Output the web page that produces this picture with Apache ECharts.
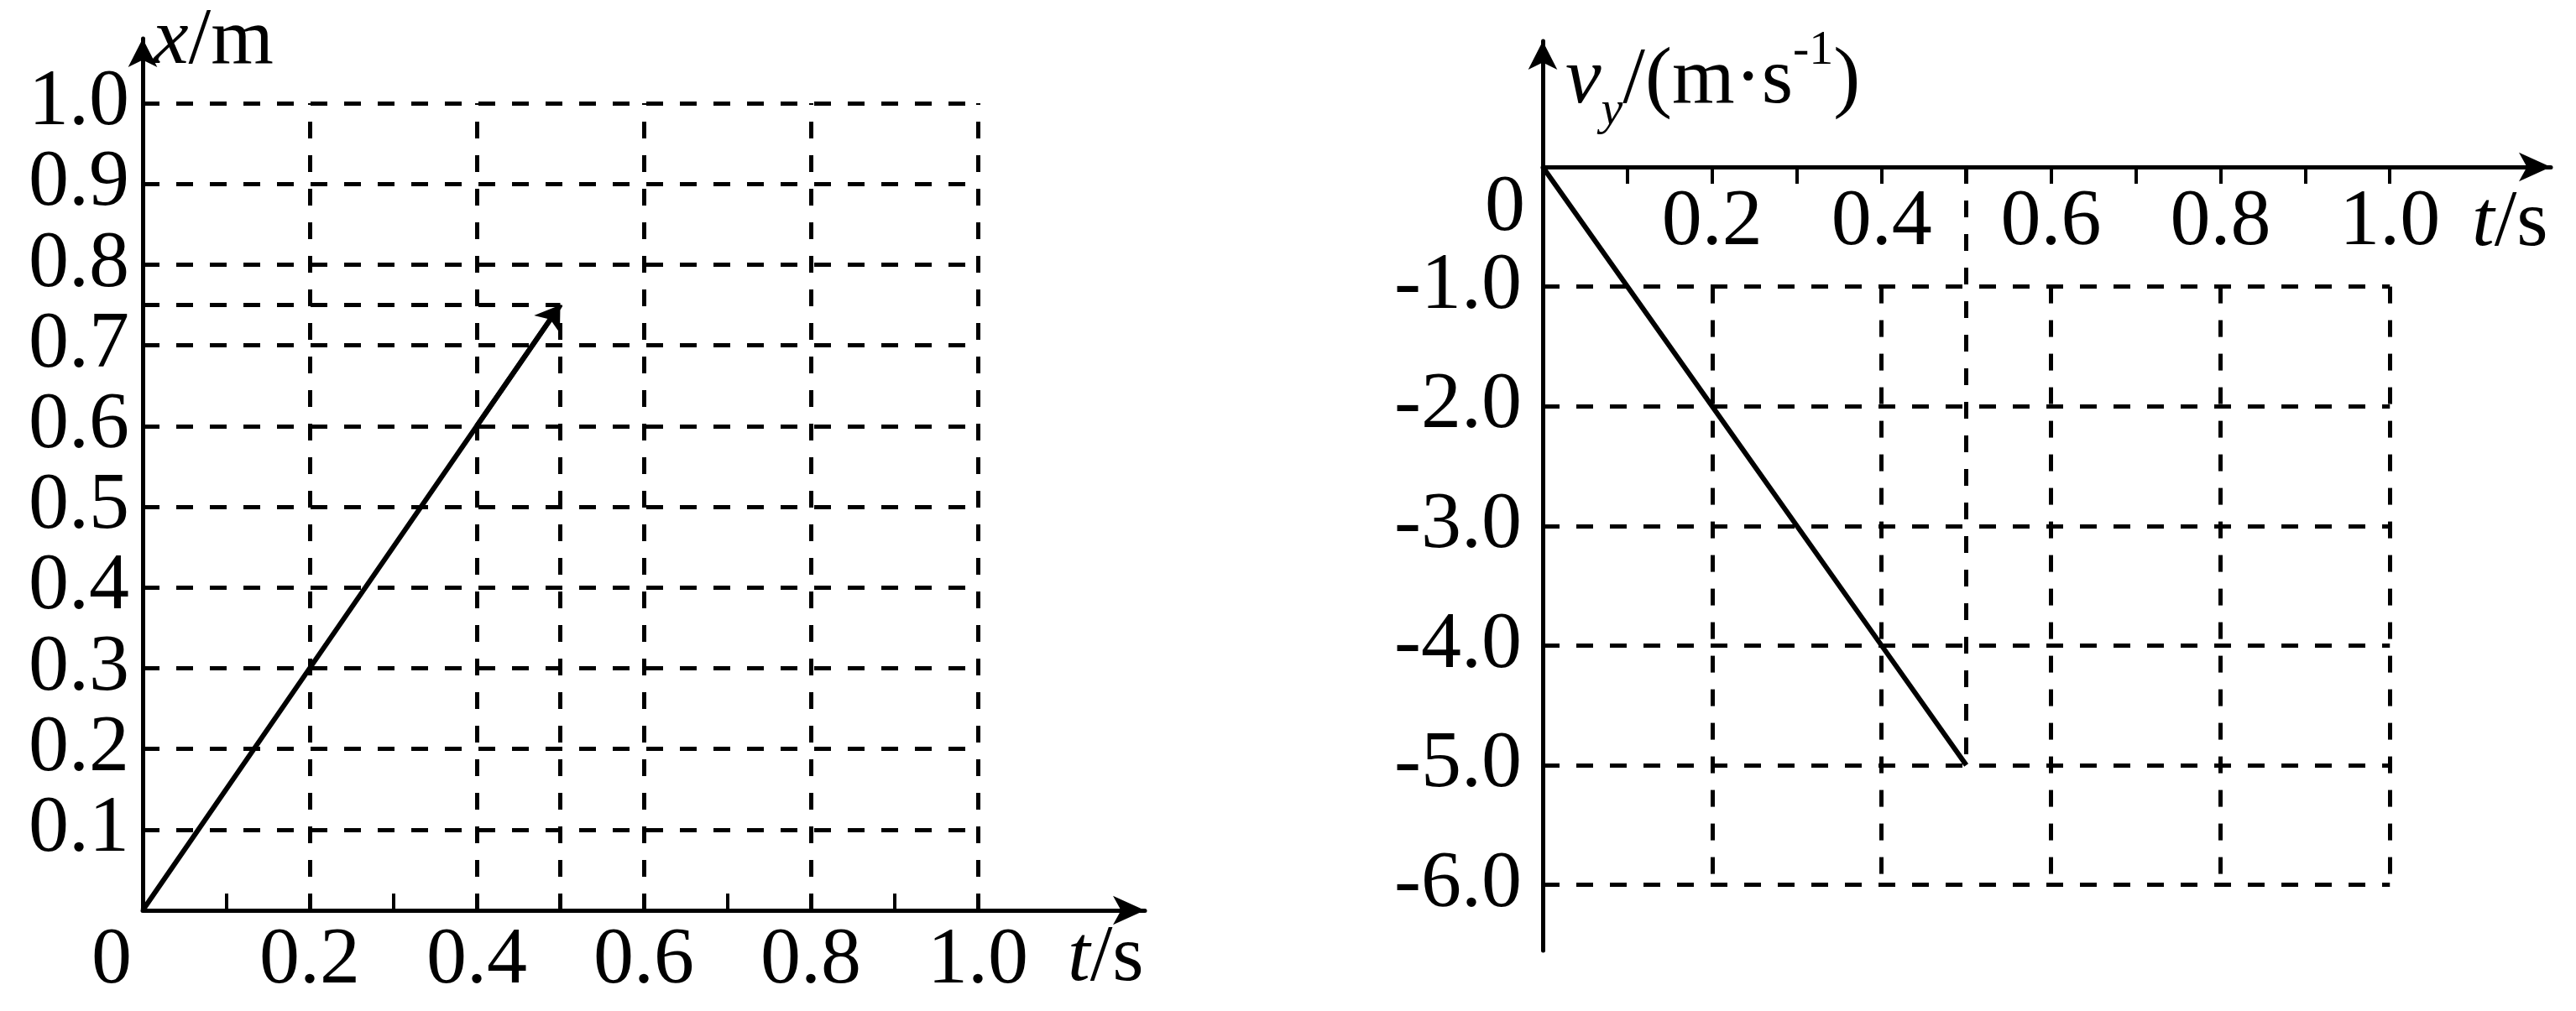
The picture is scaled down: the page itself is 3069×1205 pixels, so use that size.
<!DOCTYPE html>
<html>
<head>
<meta charset="utf-8">
<script src="https://cdn.jsdelivr.net/npm/echarts@6/dist/echarts.min.js"></script>
<style>
  html, body { margin: 0; padding: 0; background: #fff; }
  #c { width: 3069px; height: 1205px; }
</style>
</head>
<body>
<div id="c"></div>
<script>
// x–t graph (left) and vy–t graph (right) of a projectile

// tick values
const tMinorTicks  = [0, 0.1, 0.2, 0.3, 0.4, 0.5, 0.6, 0.7, 0.8, 0.9, 1.0];
const tTickLabels  = [0, 0.2, 0.4, 0.6, 0.8, 1.0];
const xTickLabels  = [0.1, 0.2, 0.3, 0.4, 0.5, 0.6, 0.7, 0.8, 0.9, 1.0];
const vyTickLabels = [-1, -2, -3, -4, -5, -6];

// dashed grid positions
const tGrid  = [0.2, 0.4, 0.6, 0.8, 1.0];
const xGrid  = [0.1, 0.2, 0.3, 0.4, 0.5, 0.6, 0.7, 0.8, 0.9, 1.0];
const vyGrid = [-1, -2, -3, -4, -5, -6];

// plotted values
const tSamples = [0, 0.2, 0.4, 0.5];
const xValues  = [0, 0.3, 0.6, 0.75];
const vyValues = [0, -2, -4, -5];

const FONT = '"Liberation Serif", "Times New Roman", serif';
const INK = '#000';
const FS = 96;

const n = tSamples.length;
const tEnd = tGrid[tGrid.length - 1];
const xTop = xGrid[xGrid.length - 1];
const vyTop = vyGrid[0];
const vyBottom = vyGrid[vyGrid.length - 1];
const tLast = tSamples[n - 1];
const xLast = xValues[n - 1];
const vyLast = vyValues[n - 1];

// grid segments for the x–t graph
const leftGridSegs = []
  .concat(xGrid.map(v => ({ coords: [[0, v], [tEnd, v]] })))
  .concat(tGrid.map(t => ({ coords: [[t, 0], [t, xTop]] })))
  .concat([
    { coords: [[0, xLast], [tLast, xLast]] },
    { coords: [[tLast, 0], [tLast, xLast]] }
  ]);

// grid segments for the vy–t graph
const rightGridSegs = []
  .concat(vyGrid.map(v => ({ coords: [[0, v], [tEnd, v]] })))
  .concat(tGrid.map(t => ({ coords: [[t, vyTop], [t, vyBottom]] })))
  .concat([{ coords: [[tLast, 0], [tLast, vyLast]] }]);

const dash = { color: INK, width: 5, type: [20, 20], opacity: 1 };
const labelBase = { color: INK, fontFamily: FONT, fontSize: FS };
const italic = Object.assign({}, labelBase, { fontStyle: 'italic' });

function axisLine(symbols, size) {
  return {
    show: true,
    onZero: false,
    symbol: symbols,
    symbolSize: size,
    lineStyle: { color: INK, width: 5 }
  };
}

const chart = echarts.init(document.getElementById('c'), null, { renderer: 'canvas' });

chart.setOption({
  backgroundColor: '#fff',
  animation: false,
  grid: [
    // x–t plot area
    { left: 170, top: 46, width: 1194, height: 1039 },
    // vy–t plot area below the t axis
    { left: 1838, top: 199, width: 1201, height: 934 },
    // strip above the t axis carrying the arrow of the vy axis
    { left: 1838, top: 49, width: 1201, height: 150 }
  ],
  xAxis: [
    {
      gridIndex: 0, type: 'value', min: 0, max: 1.2, position: 'bottom',
      axisLine: axisLine(['none', 'arrow'], [26, 38]),
      axisTick: { show: true, inside: true, length: 20, customValues: tMinorTicks,
                  lineStyle: { color: INK, width: 4 } },
      axisLabel: Object.assign({}, labelBase, {
        customValues: tTickLabels, margin: 13,
        formatter: v => v === 0 ? '{o|0}' : v.toFixed(1),
        rich: { o: Object.assign({}, labelBase, { padding: [0, 74, 0, 0] }) }
      }),
      splitLine: { show: false },
      name: '{i|t}/s', nameLocation: 'end', nameGap: -92,
      nameTextStyle: Object.assign({}, labelBase, {
        padding: [116, 0, 0, 0], rich: { i: italic }
      })
    },
    {
      gridIndex: 1, type: 'value', min: 0, max: 1.19, position: 'top',
      axisLine: axisLine(['none', 'arrow'], [26, 38]),
      axisTick: { show: true, inside: true, length: 20, customValues: tMinorTicks,
                  lineStyle: { color: INK, width: 4 } },
      axisLabel: Object.assign({}, labelBase, {
        inside: true, customValues: tTickLabels, margin: 19,
        formatter: v => v === 0 ? '{o|0}' : v.toFixed(1),
        rich: { o: Object.assign({}, labelBase, { lineHeight: 62, padding: [0, 90, 0, 0] }) }
      }),
      splitLine: { show: false },
      name: '{i|t}/s', nameLocation: 'end', nameGap: -94,
      nameTextStyle: Object.assign({}, labelBase, {
        padding: [136, 0, 0, 0], rich: { i: italic }
      })
    },
    {
      gridIndex: 2, type: 'value', min: 0, max: 1.19, show: false
    }
  ],
  yAxis: [
    {
      gridIndex: 0, type: 'value', min: 0, max: 1.08,
      axisLine: axisLine(['none', 'arrow'], [26, 34]),
      axisTick: { show: false },
      axisLabel: Object.assign({}, labelBase, {
        customValues: xTickLabels, margin: 16, padding: [24, 0, 0, 0],
        formatter: v => v.toFixed(1)
      }),
      splitLine: { show: false },
      name: '{i|x}/m', nameLocation: 'end', nameGap: -4,
      nameTextStyle: Object.assign({}, labelBase, {
        align: 'left', verticalAlign: 'middle', padding: [0, 0, 0, 12],
        rich: { i: italic }
      })
    },
    {
      gridIndex: 1, type: 'value', min: -6.55, max: 0,
      axisLine: axisLine(['none', 'none'], [1, 1]),
      axisTick: { show: false },
      axisLabel: Object.assign({}, labelBase, {
        customValues: vyTickLabels, margin: 25,
        formatter: v => v.toFixed(1)
      }),
      splitLine: { show: false }
    },
    {
      gridIndex: 2, type: 'value', min: 0, max: 1.05,
      axisLine: axisLine(['none', 'arrow'], [26, 34]),
      axisTick: { show: false },
      axisLabel: { show: false },
      splitLine: { show: false },
      name: '{i|v}{sub|y}{n|/(m·s}{sup|-1}{n|)}', nameLocation: 'end', nameGap: -48,
      nameTextStyle: Object.assign({}, labelBase, {
        align: 'left', verticalAlign: 'middle', padding: [0, 0, 0, 27],
        rich: {
          i:   Object.assign({}, italic, { lineHeight: 130, verticalAlign: 'middle' }),
          n:   Object.assign({}, labelBase, { lineHeight: 130, verticalAlign: 'middle' }),
          sub: Object.assign({}, italic, { fontSize: 58, lineHeight: 58, verticalAlign: 'bottom' }),
          sup: Object.assign({}, labelBase, { fontSize: 58, lineHeight: 90, verticalAlign: 'top' })
        }
      })
    }
  ],
  series: [
    {
      type: 'lines', coordinateSystem: 'cartesian2d', xAxisIndex: 0, yAxisIndex: 0,
      silent: true, symbol: 'none', lineStyle: dash, data: leftGridSegs, z: 1
    },
    {
      type: 'lines', coordinateSystem: 'cartesian2d', xAxisIndex: 1, yAxisIndex: 1,
      silent: true, symbol: 'none', lineStyle: dash, data: rightGridSegs, z: 1
    },
    {
      // x–t line
      type: 'line', xAxisIndex: 0, yAxisIndex: 0, silent: true,
      symbol: 'none', lineStyle: { color: INK, width: 6 },
      data: tSamples.map((t, i) => [t, xValues[i]]),
      z: 3
    },
    {
      // arrowhead on the last x–t segment
      type: 'lines', coordinateSystem: 'cartesian2d', xAxisIndex: 0, yAxisIndex: 0,
      silent: true, symbol: ['none', 'arrow'], symbolSize: 28,
      lineStyle: { color: INK, width: 6, opacity: 1 },
      data: [{ coords: [[tSamples[n - 2], xValues[n - 2]], [tLast, xLast]] }],
      z: 3
    },
    {
      // vy–t line
      type: 'line', xAxisIndex: 1, yAxisIndex: 1, silent: true,
      symbol: 'none', lineStyle: { color: INK, width: 6 },
      data: tSamples.map((t, i) => [t, vyValues[i]]),
      z: 3
    }
  ]
});
</script>
</body>
</html>
